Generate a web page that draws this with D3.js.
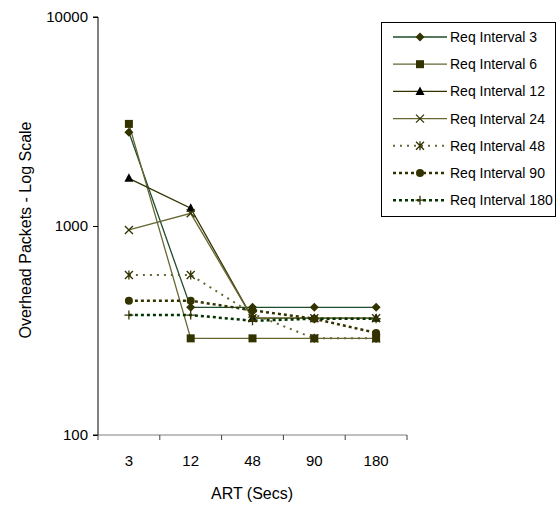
<!DOCTYPE html>
<html><head><meta charset="utf-8">
<script src="https://cdn.jsdelivr.net/npm/d3@7"></script>
<style>body{margin:0;background:#fff}svg{display:block}</style>
</head><body>
<script>
const categories = ["3", "12", "48", "90", "180"];
const seriesNames = ["Req Interval 3","Req Interval 6","Req Interval 12","Req Interval 24","Req Interval 48","Req Interval 90","Req Interval 180"];
const s3   = [2810, 408, 408, 408, 408];
const s6   = [3080, 290, 290, 290, 290];
const s12  = [1690, 1216, 362, 362, 362];
const s24  = [957, 1150, 362, 362, 362];
const s48  = [583, 583, 380, 290, 290];
const s90  = [439, 439, 395, 360, 308];
const s180 = [375, 375, 352, 360, 360];
const yTicks = [100, 1000, 10000];

const styles = [
  {line:"#1e4d2b", marker:"#333300", shape:"diamond", dash:null, w:1.3},
  {line:"#666633", marker:"#333300", shape:"square", dash:null, w:1.3},
  {line:"#333300", marker:"#000000", shape:"triangle", dash:null, w:1.3},
  {line:"#666633", marker:"#333300", shape:"x", dash:null, w:1.3},
  {line:"#666633", marker:"#333300", shape:"asterisk", dash:"2,5", w:2},
  {line:"#333300", marker:"#333300", shape:"circle", dash:"3,3", w:2.5},
  {line:"#003300", marker:"#333300", shape:"plus", dash:"3,3", w:2.5}
];
const data = [s3, s6, s12, s24, s48, s90, s180];

const FONT = "Liberation Sans, Arial, sans-serif";
const W = 557, H = 507;
const svg = d3.select("body").append("svg").attr("width", W).attr("height", H);
const x = d3.scaleBand().domain(categories).range([98, 407]);
const y = d3.scaleLog().domain([100, 10000]).range([435, 17]);

// axes
const yAxis = d3.axisLeft(y).tickValues(yTicks).tickFormat(d3.format("d")).tickSize(5).tickPadding(5);
const gy = svg.append("g").attr("transform", "translate(98,0)").call(yAxis);
gy.select(".domain").attr("stroke", "#000").attr("d", "M-5,17H0V435H-5");
gy.selectAll(".tick line").attr("stroke", "#000");
gy.selectAll("text").attr("font-family", FONT).attr("font-size", 15).attr("fill", "#000");

const xAxis = d3.axisBottom(x).tickSize(0).tickPadding(20);
const gx = svg.append("g").attr("transform", "translate(0,435)").call(xAxis);
gx.select(".domain").attr("stroke", "#808080").attr("d", "M98,0H407");
gx.selectAll("text").attr("font-family", FONT).attr("font-size", 15).attr("fill", "#000");
const bounds = categories.map(c => x(c)).concat([x.range()[1]]);
gx.selectAll(".bt").data(bounds).enter().append("line")
  .attr("x1", d => d).attr("x2", d => d).attr("y1", 0).attr("y2", 5)
  .attr("stroke", "#404040");

svg.append("text").attr("x", 252).attr("y", 499).attr("text-anchor", "middle")
  .attr("font-family", FONT).attr("font-size", 16).text("ART (Secs)");
svg.append("text").attr("transform", "translate(31,230) rotate(-90)").attr("text-anchor", "middle")
  .attr("font-family", FONT).attr("font-size", 16).text("Overhead Packets - Log Scale");

function drawMarker(g, shape, cx, cy, color) {
  const s = 4;
  if (shape === "diamond") g.append("path").attr("d", `M${cx},${cy-s-0.5}L${cx+s+0.5},${cy}L${cx},${cy+s+0.5}L${cx-s-0.5},${cy}Z`).attr("fill", color);
  else if (shape === "square") g.append("rect").attr("x", cx-4).attr("y", cy-4).attr("width", 8).attr("height", 8).attr("fill", color);
  else if (shape === "triangle") g.append("path").attr("d", `M${cx},${cy-5}L${cx+4.5},${cy+3.5}L${cx-4.5},${cy+3.5}Z`).attr("fill", color);
  else if (shape === "circle") g.append("circle").attr("cx", cx).attr("cy", cy).attr("r", 4).attr("fill", color);
  else if (shape === "x") g.append("path").attr("d", `M${cx-4},${cy-4}L${cx+4},${cy+4}M${cx-4},${cy+4}L${cx+4},${cy-4}`).attr("stroke", color).attr("stroke-width", 1.3).attr("fill", "none");
  else if (shape === "asterisk") g.append("path").attr("d", `M${cx-4},${cy-4}L${cx+4},${cy+4}M${cx-4},${cy+4}L${cx+4},${cy-4}M${cx},${cy-4.5}L${cx},${cy+4.5}`).attr("stroke", color).attr("stroke-width", 1.3).attr("fill", "none");
  else if (shape === "plus") g.append("path").attr("d", `M${cx-4.5},${cy}L${cx+4.5},${cy}M${cx},${cy-4.5}L${cx},${cy+4.5}`).attr("stroke", color).attr("stroke-width", 1.3).attr("fill", "none");
}

const line = d3.line().x((d, i) => x(categories[i]) + x.bandwidth() / 2).y(d => y(d));
const plot = svg.append("g");
data.forEach((vals, k) => {
  const st = styles[k];
  plot.append("path").attr("d", line(vals)).attr("fill", "none").attr("stroke", st.line)
    .attr("stroke-width", st.w).attr("stroke-dasharray", st.dash);
});
data.forEach((vals, k) => {
  const st = styles[k];
  vals.forEach((v, i) => drawMarker(plot, st.shape, x(categories[i]) + x.bandwidth() / 2, y(v), st.marker));
});

// legend
const lg = svg.append("g");
lg.append("rect").attr("x", 381.5).attr("y", 22.5).attr("width", 174).attr("height", 194)
  .attr("fill", "#fff").attr("stroke", "#000").attr("stroke-width", 1);
seriesNames.forEach((name, k) => {
  const st = styles[k];
  const ly = 37 + k * 27.2;
  lg.append("line").attr("x1", 393).attr("x2", 447).attr("y1", ly).attr("y2", ly)
    .attr("stroke", st.line).attr("stroke-width", st.w).attr("stroke-dasharray", st.dash);
  drawMarker(lg, st.shape, 420, ly, st.marker);
  lg.append("text").attr("x", 450).attr("y", ly + 5).attr("font-family", FONT)
    .attr("font-size", 14).text(name);
});
</script>
</body></html>
